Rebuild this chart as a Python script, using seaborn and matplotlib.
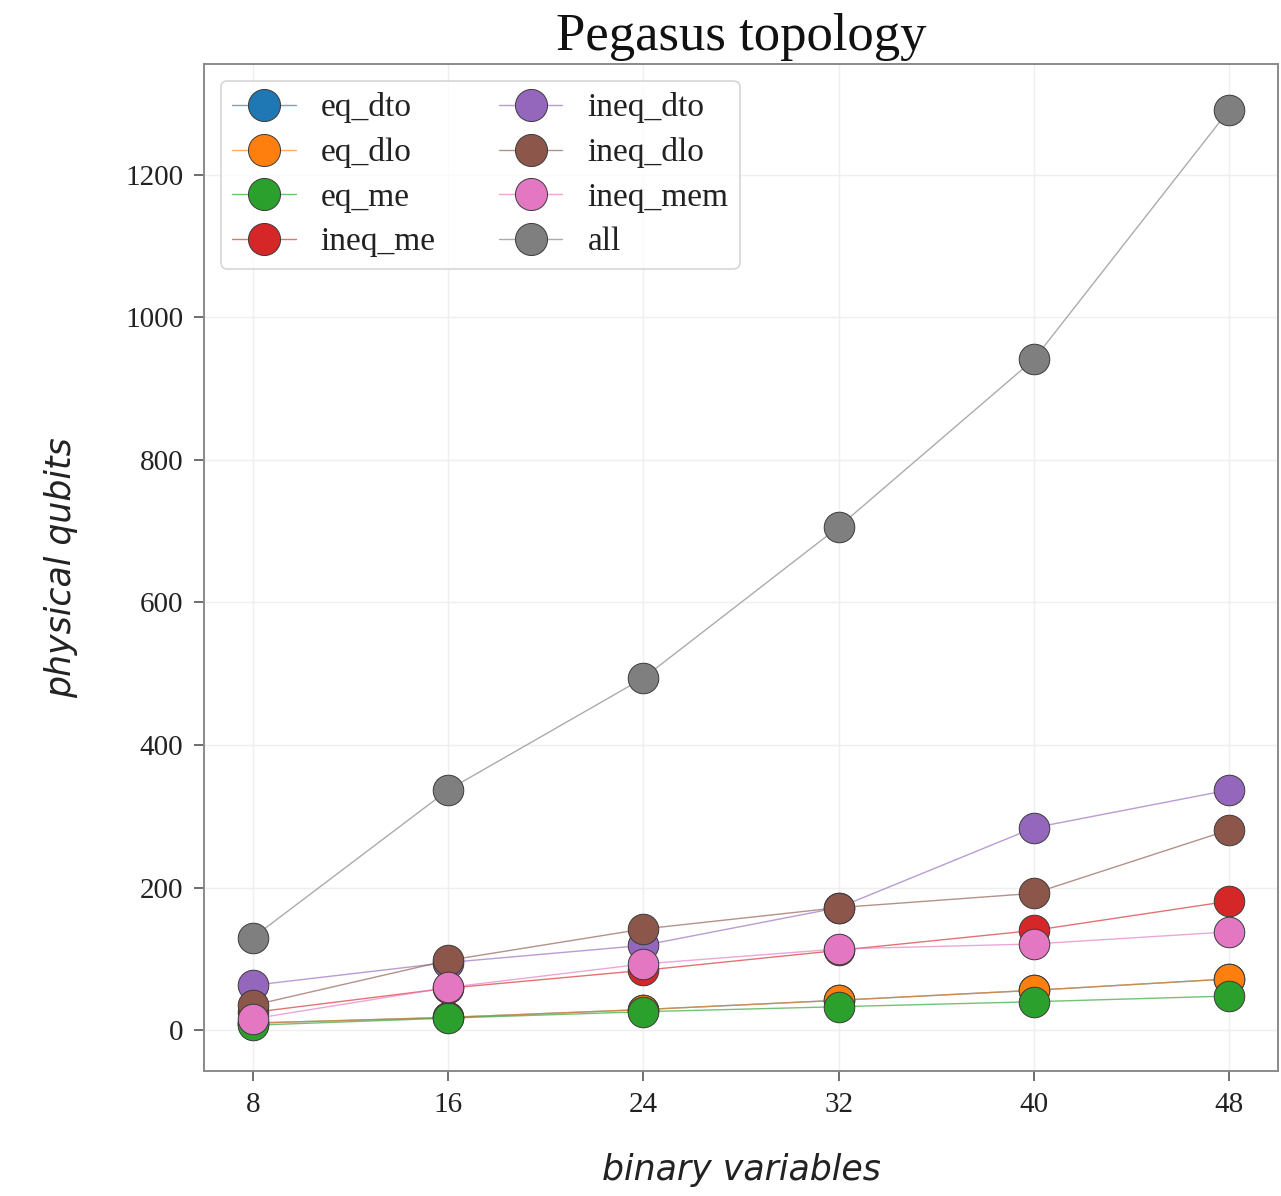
import numpy as np
import pandas as pd
import matplotlib
matplotlib.use("Agg")
import matplotlib.pyplot as plt
import seaborn as sns
from matplotlib.colors import to_rgba

# Problem sizes (number of binary variables)
binary_variables = [8, 16, 24, 32, 40, 48]

# Physical qubits needed after embedding on the Pegasus graph
eq_dto = [10, 18, 29, 42, 56, 72]
eq_dlo = [10, 18, 29, 42, 56, 72]
eq_me = [7, 17, 26, 33, 40, 48]
ineq_me = [25, 59, 84, 112, 140, 181]
ineq_dto = [63, 95, 119, 172, 284, 337]
ineq_dlo = [35, 98, 142, 172, 192, 281]
ineq_mem = [16, 60, 93, 114, 121, 138]
all_constraints = [130, 337, 494, 706, 941, 1291]

methods = ["eq_dto", "eq_dlo", "eq_me", "ineq_me",
           "ineq_dto", "ineq_dlo", "ineq_mem", "all"]
series = [eq_dto, eq_dlo, eq_me, ineq_me,
          ineq_dto, ineq_dlo, ineq_mem, all_constraints]

df = pd.DataFrame({
    "binary variables": np.tile(binary_variables, len(methods)),
    "physical qubits": np.concatenate(series),
    "method": np.repeat(methods, len(binary_variables)),
})

sns.set_theme(style="white")
serif = ["Liberation Serif", "DejaVu Serif"]
plt.rcParams["font.family"] = serif

palette = sns.color_palette("tab10", len(methods))

fig = plt.figure(figsize=(12.81, 11.96), dpi=100)
ax = fig.add_axes([0.1593, 0.1045, 0.8384, 0.842])

sns.lineplot(data=df, x="binary variables", y="physical qubits",
             hue="method", hue_order=methods, palette=palette,
             marker="o", markersize=22, markeredgecolor="#3a3a3a",
             markeredgewidth=0.7, linewidth=1.0, legend=False, ax=ax)

# Thin translucent connecting lines, opaque markers
for line, col in zip(ax.lines, palette):
    line.set_color(to_rgba(col, 0.65))
    line.set_markerfacecolor(to_rgba(col, 1.0))
    line.set_markeredgecolor("#3a3a3a")

ax.set_xticks(binary_variables)
ax.set_yticks([0, 200, 400, 600, 800, 1000, 1200])
ax.grid(True, color="#efefef", linewidth=1.0)
ax.set_axisbelow(True)

for s in ax.spines.values():
    s.set_color("#8a8a8a")
    s.set_linewidth(1.4)

ax.tick_params(axis="both", which="major", direction="out", length=7,
               width=1.2, color="#555555", labelsize=21,
               labelcolor="#222222", pad=8, left=True, bottom=True)
for lab in ax.get_xticklabels() + ax.get_yticklabels():
    lab.set_family(serif)

ax.set_xlabel("binary variables", family="DejaVu Sans", style="italic",
              fontsize=25, color="#222222", labelpad=25)
ax.set_ylabel("physical qubits", family="DejaVu Sans", style="italic",
              fontsize=25, color="#222222", labelpad=34)
ax.set_title("Pegasus topology", family=serif, fontsize=38,
             color="#111111", pad=10)

leg = ax.legend(handles=list(ax.lines[:len(methods)]), labels=methods,
                loc="upper left", ncol=2, fontsize=24, frameon=True,
                handlelength=1.9, handletextpad=0.75, columnspacing=1.9,
                labelspacing=0.42, borderpad=0.35, borderaxespad=0.5,
                markerscale=1.05, fancybox=True)
leg.get_frame().set_edgecolor("#cccccc")
leg.get_frame().set_linewidth(1.2)
for t in leg.get_texts():
    t.set_color("#222222")

fig.savefig("out.png", dpi=100)
